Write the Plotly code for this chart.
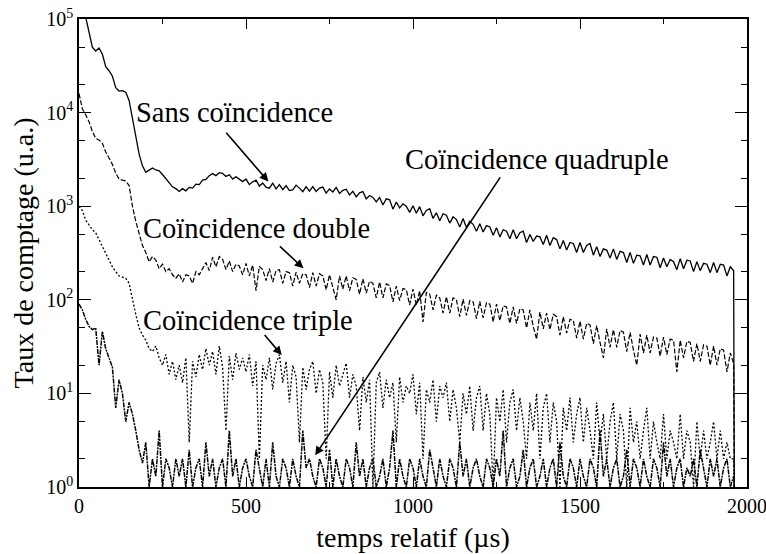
import plotly.graph_objects as go

# time axis (µs), 10 µs steps, plus final drop point
time_us = list(range(0, 1970, 10)) + [1962]

sans = [
    140000, 125000, 105000, 72000, 50000, 45500, 49000, 42000, 31000, 28000,
    24500, 18500, 17000, 17200, 16500, 13500, 8500, 5200, 3600, 2700,
    2300, 2430, 2560, 2440, 2390, 2180, 1960, 1770, 1610, 1540,
    1440, 1540, 1460, 1590, 1560, 1720, 1700, 1900, 1930, 2120,
    2230, 2120, 2280, 2240, 2080, 2170, 1950, 2060, 1920, 1830,
    1950, 1700, 1820, 1900, 1640, 1770, 1600, 1560, 1760, 1530,
    1700, 1500, 1660, 1470, 1490, 1680, 1560, 1430, 1620, 1450,
    1620, 1440, 1560, 1600, 1380, 1530, 1420, 1590, 1370, 1480,
    1520, 1320, 1440, 1260, 1390, 1430, 1200, 1300, 1240, 1110,
    1240, 1030, 1200, 1170, 930, 1110, 960, 1060, 1000, 860,
    1010, 840, 990, 790, 900, 940, 740, 850, 700, 830,
    800, 660, 770, 720, 600, 740, 590, 690, 640, 540,
    650, 530, 620, 600, 490, 590, 470, 560, 540, 450,
    560, 450, 520, 540, 410, 500, 420, 480, 470, 390,
    490, 380, 460, 440, 350, 430, 340, 410, 400, 320,
    410, 320, 380, 400, 300, 370, 290, 350, 340, 280,
    350, 270, 330, 320, 250, 320, 245, 300, 295, 235,
    305, 235, 290, 285, 220, 280, 225, 270, 255, 210,
    275, 215, 265, 260, 200, 255, 205, 245, 240, 195,
    250, 195, 240, 235, 180, 225, 205,
    1,
]

double = [
    16000, 11000, 9500, 8000, 6300, 5300, 5100, 4700, 3800, 3300,
    2800, 2250, 1950, 1900, 1860, 1660, 1000, 690, 500, 380,
    320, 255, 290, 265, 215, 240, 200, 215, 185, 170,
    190, 155, 185, 180, 150, 200, 185, 215, 250, 205,
    285, 225, 290, 270, 210, 260, 200, 240, 230, 185,
    245, 180, 235, 125, 228, 210, 160, 215, 155, 205,
    210, 150, 200, 195, 140, 198, 150, 190, 185, 135,
    195, 140, 190, 180, 128, 185, 135, 100, 180, 130,
    180, 125, 172, 165, 115, 168, 118, 158, 150, 105,
    155, 105, 148, 142, 95, 140, 98, 132, 128, 88,
    130, 88, 125, 58, 120, 115, 78, 112, 105, 72,
    108, 72, 105, 100, 66, 102, 68, 98, 95, 63,
    96, 64, 93, 90, 58, 90, 60, 86, 84, 56,
    84, 56, 80, 78, 50, 78, 52, 38, 74, 49,
    72, 48, 70, 66, 42, 66, 44, 62, 60, 39,
    59, 38, 56, 54, 34, 53, 35, 24, 49, 31,
    48, 31, 47, 45, 28, 45, 29, 20, 43, 27,
    42, 27, 40, 39, 25, 40, 26, 38, 37, 17,
    37, 24, 36, 35, 22, 34, 22, 33, 32, 20,
    32, 20, 30, 29, 17, 27, 21,
    1,
]

triple = [
    1000, 900, 710, 620, 560, 520, 440, 380, 310, 270,
    225, 200, 180, 175, 170, 150, 100, 70, 50, 42,
    37, 30, 28, 32, 24, 20, 26, 16, 22, 14,
    20, 13, 24, 3, 22, 15, 26, 18, 30, 20,
    28, 16, 32, 19, 4, 25, 14, 27, 18, 24,
    17, 26, 12, 22, 2, 20, 14, 24, 11, 21,
    26, 13, 22, 8, 20, 15, 3, 19, 11, 18,
    22, 10, 18, 13, 2, 17, 9, 20, 12, 16,
    21, 9, 16, 12, 4, 15, 8, 14, 1, 13,
    17, 7, 14, 9, 13, 3, 15, 8, 12, 10,
    16, 6, 13, 2, 11, 8, 14, 5, 12, 9,
    13, 5, 11, 7, 3, 10, 6, 12, 4, 9,
    12, 4, 10, 6, 1, 9, 5, 11, 3, 8,
    11, 4, 9, 5, 2, 8, 4, 10, 2, 7,
    10, 3, 8, 5, 1, 7, 4, 9, 3, 6,
    9, 3, 7, 4, 2, 8, 3, 6, 2, 5,
    8, 2, 6, 4, 1, 7, 3, 5, 2, 4,
    7, 2, 5, 3, 2, 6, 2, 4, 3, 2,
    6, 2, 4, 3, 1, 5, 2, 4, 2, 3,
    5, 2, 4, 2, 3, 2, 2,
    1,
]

quadruple = [
    90, 78, 62, 52, 48, 50, 20, 46, 30, 24,
    19, 7, 14, 10, 5, 8, 6, 4, 2.5, 1.8,
    3, 1, 2, 1.3, 4, 1, 2, 1.6, 1, 2,
    1.3, 2, 1, 2.5, 1, 1.6, 2, 1, 3, 1.3,
    2, 1, 1.6, 2, 1, 4, 1.3, 2, 1, 1.6,
    2, 1.3, 1, 2.5, 1.6, 1, 2, 1, 3, 1.3,
    1, 2, 1.6, 1, 2, 1.3, 1, 4, 1.6, 2,
    1.3, 1, 2, 1.6, 1, 2.5, 1, 2, 1.3, 1,
    2, 1.6, 1, 3, 1.3, 2, 1, 1.6, 2, 1,
    1.3, 2, 1, 1.6, 4, 1, 2, 1.3, 1, 2,
    1.6, 1, 2, 1.3, 1, 2.5, 1.6, 1, 2, 1.3,
    1, 2, 1.6, 1, 3, 1.3, 2, 1, 1.6, 2,
    1.3, 1, 2, 1.6, 1, 2, 1.3, 4, 1, 1.6,
    2, 1, 1.3, 2.5, 1, 1.6, 2, 1, 1.3, 2,
    1, 1.6, 2, 1, 3, 1.3, 1, 2, 1.6, 1,
    2, 1.3, 1, 2, 1.6, 1, 4, 1.3, 2, 1,
    1.6, 2, 1, 1.3, 2.5, 1, 2, 1.6, 1, 2,
    1.3, 1, 2, 1.6, 1, 3, 1.3, 2, 1, 1.6,
    2, 1, 1.6, 1.3, 2, 1, 2.5, 1.6, 1, 2,
    1.3, 2, 1, 1.6, 2, 1, 1.3,
    1,
]

x_ticks = [0, 500, 1000, 1500, 2000]
y_tickvals = [1, 10, 100, 1000, 10000, 100000]
y_ticktext = ["10<sup>0</sup>", "10<sup>1</sup>", "10<sup>2</sup>",
              "10<sup>3</sup>", "10<sup>4</sup>", "10<sup>5</sup>"]

# labels: (text, x_center, log10 y_center)
labels = [
    ("Sans coïncidence", 467, 3.997),
    ("Coïncidence double", 532, 2.757),
    ("Coïncidence triple", 506, 1.783),
    ("Coïncidence quadruple", 1372, 3.496),
]
# arrows: (tail x, tail log y, head x, head log y)
arrows = [
    (437, 3.80, 567, 3.263),
    (597, 2.586, 672, 2.336),
    (552, 1.641, 607, 1.409),
    (1264, 3.324, 707, 0.339),
]

FONT = "Liberation Serif, Times New Roman, Tinos, DejaVu Serif, serif"

fig = go.Figure()
series = [
    ("Sans coïncidence", sans, "solid", 1.3),
    ("Coïncidence double", double, "5px,2px", 1.2),
    ("Coïncidence triple", triple, "2px,2px", 1.3),
    ("Coïncidence quadruple", quadruple, "5px,1px,2px,1px", 1.5),
]
for name, vals, dash, w in series:
    fig.add_trace(go.Scatter(
        x=time_us, y=vals, mode="lines", name=name,
        line=dict(color="black", width=w, dash=dash),
        showlegend=False, hoverinfo="skip",
    ))

annotations = []
for text, xc, yc in labels:
    annotations.append(dict(
        x=xc, y=yc, xref="x", yref="y", text=text, showarrow=False,
        xanchor="center", yanchor="middle",
        font=dict(family=FONT, size=28.5, color="black"),
    ))
for tx, ty, hx, hy in arrows:
    annotations.append(dict(
        x=hx, y=hy, ax=tx, ay=ty, xref="x", yref="y", axref="x", ayref="y",
        text="", showarrow=True, arrowhead=2, arrowsize=1.1, arrowwidth=1.6,
        arrowcolor="black",
    ))

fig.update_layout(
    width=766, height=554,
    margin=dict(l=79, r=19, t=19, b=67, autoexpand=False),
    paper_bgcolor="white", plot_bgcolor="white",
    font=dict(family=FONT, size=20, color="black"),
    annotations=annotations,
    xaxis=dict(
        range=[0, 2000], tickvals=x_ticks, ticks="inside", ticklen=10,
        tickwidth=1.2, tickcolor="black", automargin=False,
        ticklabeloverflow="allow",
        minor=dict(dtick=250, ticks="inside", ticklen=5, tickcolor="black"),
        showline=True, linecolor="black", linewidth=1.5, mirror="ticks",
        showgrid=False, zeroline=False,
        tickfont=dict(family=FONT, size=20),
        title=dict(text="temps relatif (µs)", standoff=12,
                   font=dict(family=FONT, size=28)),
    ),
    yaxis=dict(
        type="log", range=[0, 5], tickvals=y_tickvals, ticktext=y_ticktext,
        ticks="inside", ticklen=12, tickwidth=1.2, tickcolor="black",
        automargin=False, ticklabeloverflow="allow",
        minor=dict(ticks="inside", ticklen=6, tickcolor="black", showgrid=False),
        showline=True, linecolor="black", linewidth=1.5, mirror="ticks",
        showgrid=False, zeroline=False,
        tickfont=dict(family=FONT, size=20),
        title=dict(text="Taux de comptage (u.a.)", standoff=4,
                   font=dict(family=FONT, size=28)),
    ),
)

fig.write_html(
    "out.html",
    config={"displayModeBar": False},
    post_script="document.body.style.margin='0';document.body.style.overflow='hidden';",
)
